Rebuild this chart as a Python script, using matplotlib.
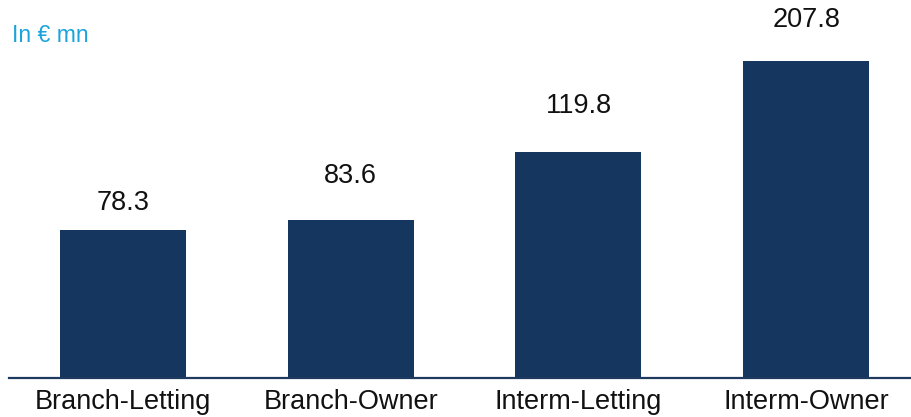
import matplotlib.pyplot as plt
import numpy as np

categories = ["Branch-Letting", "Branch-Owner", "Interm-Letting", "Interm-Owner"]
values = [78.3, 83.6, 119.8, 207.8]
unit_label = "In € mn"

bar_color = "#14365f"
label_offsets = [19.5, 32, 33, 29.5]  # points above bar top, as placed in the original
plt.rcParams['font.family'] = ['Liberation Sans', 'DejaVu Sans']

fig = plt.figure(figsize=(9.11, 4.17), dpi=100)
ax = fig.add_axes([9 / 911, 39 / 417, 902 / 911, 317 / 417])

x = np.arange(len(categories))
ytop = 167.7  # tallest bar runs past the top, as in the original
ax.bar(x, values, width=0.553, color=bar_color, zorder=2)
ax.set_xlim(-0.5, 3.46)
ax.set_ylim(0, ytop)

for xi, v, off in zip(x, values, label_offsets):
    ax.annotate(f"{v:.1f}", (xi, min(v, ytop)), xytext=(0, off), textcoords="offset points",
                ha="center", va="center", fontsize=19.5, color="#111111", annotation_clip=False)

ax.set_xticks(x)
ax.set_xticklabels(categories, fontsize=19.5, color="#111111")
ax.tick_params(axis="x", length=0, pad=8)
ax.set_yticks([])
for s in ["top", "right", "left"]:
    ax.spines[s].set_visible(False)
ax.spines["bottom"].set_color("#1f3a5f")
ax.spines["bottom"].set_linewidth(1.6)

fig.text(12 / 911, 1 - 36 / 417, unit_label, fontsize=16.5, color="#1aa3dc", ha="left", va="center")

fig.savefig("out.png", dpi=100)
